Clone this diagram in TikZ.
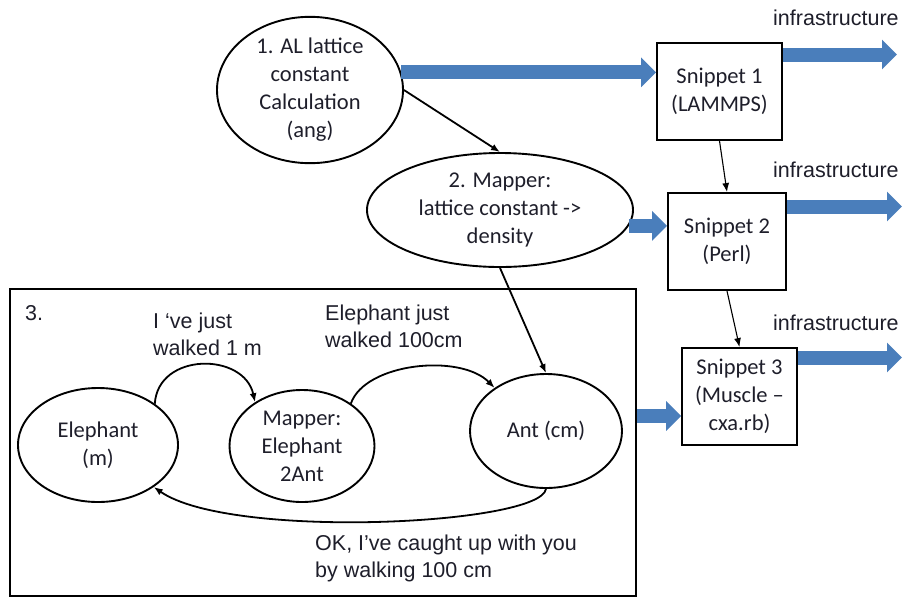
\documentclass[tikz,border=0pt]{standalone}
\usepackage{fontspec}
\setmainfont{Liberation Sans}
\newfontfamily\carlito{Carlito}
\usetikzlibrary{shapes.geometric,arrows.meta,calc}
\definecolor{blkblue}{HTML}{4A7EBB}
\definecolor{txtdark}{HTML}{1E1E2A}
\begin{document}
\begin{tikzpicture}[x=1pt,y=-1pt,
  ell/.style={ellipse,draw,line width=1.9pt,inner sep=0pt,align=center,text=txtdark,
    font=\carlito\fontsize{22.5}{28}\selectfont},
  snip/.style={rectangle,draw,line width=1.9pt,inner sep=0pt,align=center,text=txtdark,
    font=\carlito\fontsize{22.5}{28}\selectfont},
  lbl/.style={inner sep=0pt,align=left,text=txtdark,font=\fontsize{21.5}{27}\selectfont},
  blk/.style={draw=blkblue,line width=14pt,-{Triangle[width=29pt,length=15pt]},blkblue},
  thinarr/.style={draw,line width=1.8pt,-{Latex[length=9pt,width=7pt]}},
]
\useasboundingbox (0,0) rectangle (908,598);

% frame of part 3
\node[draw,line width=1.9pt,minimum width=626pt,minimum height=307pt,inner sep=0pt] (frame) at (323,442.5) {};

% top part
\node[ell,minimum width=186pt,minimum height=136pt] (e1) at (310,90) {1. AL lattice\\constant\\Calculation\\(ang)};
\node[ell,minimum width=266pt,minimum height=114pt] (e2) at (500,210) {2. Mapper:\\lattice constant ->\\density};

\node[snip,minimum width=125pt,minimum height=97pt] (s1) at (719.5,91.5) {Snippet 1\\(LAMMPS)};
\node[snip,minimum width=118pt,minimum height=97pt] (s2) at (727,241.5) {Snippet 2\\(Perl)};
\node[snip,minimum width=115pt,minimum height=97pt] (s3) at (739.5,396.5) {Snippet 3\\(Muscle –\\cxa.rb)};

\node[lbl,anchor=west] (inf1) at (773,18) {infrastructure};
\node[lbl,anchor=west] (inf2) at (773,170) {infrastructure};
\node[lbl,anchor=west] (inf3) at (773,323) {infrastructure};

\coordinate (i1) at (897,54.5);
\coordinate (i2) at (902,206.5);
\coordinate (i3) at (902,357.5);
\coordinate (a3) at ($(s3.west)+(0,19.5)$);

% part 3 nodes
\node[ell,minimum width=160pt,minimum height=114pt] (el) at (98,445) {Elephant\\(m)};
\node[ell,minimum width=145pt,minimum height=112pt] (mp) at (302,446) {Mapper:\\Elephant\\2Ant};
\node[ell,minimum width=152pt,minimum height=114pt] (ant) at (546,431) {Ant (cm)};

\node[lbl,anchor=west] (n3) at (25,313) {3.};
\node[lbl,anchor=west] (l1) at (153,334) {I ‘ve just\\walked 1 m};
\node[lbl,anchor=west] (l2) at (325,326.5) {Elephant just\\walked 100cm};
\node[lbl,anchor=west] (l3) at (315,558.5) {OK, I’ve caught up with you\\by walking 100 cm};

% block arrows
\draw[blk] (e1.11) -- (e1.11 -| s1.west);
\draw[blk] (e2.-7) -- (e2.-7 -| s2.west);
\draw[blk] (a3 -| frame.east) -- (a3);
\draw[blk] (s1.east |- i1) -- (i1);
\draw[blk] (s2.east |- i2) -- (i2);
\draw[blk] (s3.east |- i3) -- (i3);

% thin arrows
\draw[thinarr] (e1.east) -- (e2.north);
\draw[thinarr] (e2.south) -- (ant.north);
\draw[thinarr,line width=1.1pt] (s1.south) -- (s2.north);
\draw[thinarr,line width=1.1pt] (s2.south) -- (s3.north);

% curves in part 3
\draw[thinarr] (el.36) .. controls (158,352) and (244,352) .. (mp.137);
\draw[thinarr] (mp.41) .. controls (365,363) and (460,353) .. (ant.140);
\draw[thinarr] (ant.south) .. controls (540,525) and (230,540) .. (el.-37);
\end{tikzpicture}
\end{document}
